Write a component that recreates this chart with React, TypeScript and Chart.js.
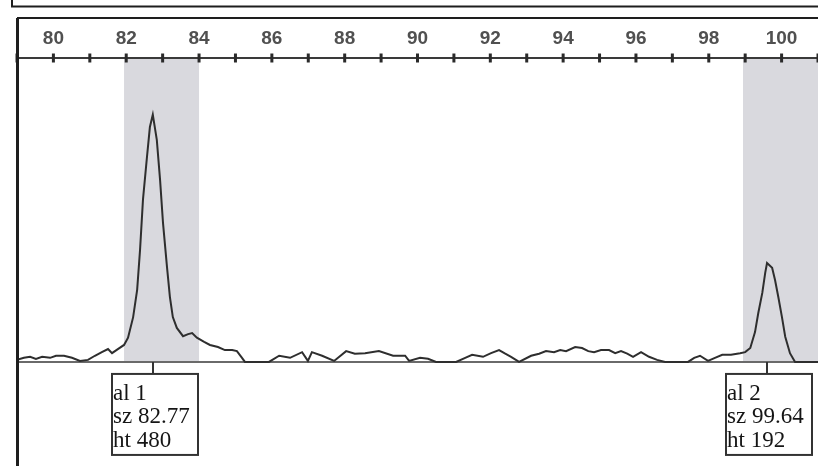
import React, { useEffect, useRef } from 'react';
import { Chart, registerables } from 'chart.js';

Chart.register(...registerables);

// Fragment size (bp) along the trace
const sizes = [
  79.04, 79.23, 79.40, 79.56, 79.73, 79.95, 80.11, 80.33, 80.55, 80.77, 80.99, 81.18, 81.37, 81.54, 81.65, 81.81,
  81.98, 82.09, 82.23, 82.34, 82.42, 82.50, 82.61, 82.69, 82.77, 82.88, 82.97, 83.05, 83.16, 83.24, 83.32, 83.43,
  83.60, 83.74, 83.85, 83.98, 84.18, 84.34, 84.56, 84.75, 84.95, 85.08, 85.22, 85.30, 85.96, 86.24, 86.54, 86.87,
  87.03, 87.14, 87.42, 87.75, 88.08, 88.32, 88.60, 88.98, 89.37, 89.70, 89.81, 90.11, 90.33, 90.55, 91.10, 91.35,
  91.54, 91.84, 92.06, 92.28, 92.45, 92.61, 92.83, 93.16, 93.38, 93.57, 93.79, 93.96, 94.12, 94.37, 94.56, 94.73,
  94.89, 95.08, 95.30, 95.47, 95.63, 95.80, 95.96, 96.18, 96.40, 96.62, 96.84, 97.47, 97.64, 97.80, 98.02, 98.21,
  98.41, 98.65, 98.90, 99.04, 99.18, 99.31, 99.40, 99.51, 99.59, 99.64, 99.78, 99.86, 99.95, 100.05, 100.14, 100.27,
  100.41, 101.04,
];
// Signal height (RFU) along the trace
const heights = [
  4, 8, 10, 6, 10, 8, 12, 12, 8, 2, 4, 12, 19, 25, 17, 25,
  33, 47, 87, 140, 218, 315, 398, 456, 480, 431, 353, 270, 184, 126, 87, 66,
  50, 54, 56, 47, 39, 33, 29, 23, 23, 21, 8, 0, 0, 12, 8, 19,
  2, 19, 12, 2, 21, 16, 17, 21, 12, 12, 2, 8, 6, 0, 0, 8,
  14, 10, 17, 23, 16, 10, 0, 12, 16, 21, 19, 23, 21, 29, 27, 21,
  19, 23, 23, 17, 21, 16, 10, 19, 10, 4, 0, 0, 8, 12, 2, 8,
  14, 14, 17, 19, 27, 58, 95, 134, 173, 192, 183, 159, 126, 87, 49, 17,
  0, 0,
];
// Allele bins (shaded)
const binStart = [81.98, 98.98];
const binEnd = [84.04, 101.04];
// Called peaks
const peakAllele = ['1', '2'];
const peakSize = [82.77, 99.64];
const peakHeight = [480, 192];

const X_MIN = 79.04;
const X_MAX = 101.04;
const Y_MIN = -202;
const Y_MAX = 590;

const rfuPlugin = {
  id: 'rfuDecor',
  beforeDatasetsDraw(chart: any) {
    const { ctx, chartArea: ca, scales } = chart;
    const x = scales.x;
    const y = scales.y;
    const y0 = y.getPixelForValue(0);
    ctx.save();
    ctx.fillStyle = '#d9d9de';
    for (let i = 0; i < binStart.length; i++) {
      const x0 = Math.max(x.getPixelForValue(binStart[i]), ca.left);
      const x1 = Math.min(x.getPixelForValue(binEnd[i]), ca.right);
      ctx.fillRect(x0, ca.top + 1, x1 - x0, y0 - ca.top - 1);
    }
    ctx.strokeStyle = '#6a6a6a';
    ctx.lineWidth = 2;
    ctx.beginPath();
    ctx.moveTo(ca.left, y0);
    ctx.lineTo(ca.right, y0);
    ctx.stroke();
    ctx.restore();
  },
  afterDraw(chart: any) {
    const { ctx, chartArea: ca, scales } = chart;
    const x = scales.x;
    const y = scales.y;
    const y0 = y.getPixelForValue(0);
    ctx.save();
    // axis line
    ctx.strokeStyle = '#3a3a3a';
    ctx.lineWidth = 2;
    ctx.beginPath();
    ctx.moveTo(ca.left, ca.top);
    ctx.lineTo(ca.right, ca.top);
    ctx.stroke();
    // tick marks
    ctx.lineWidth = 3;
    ctx.strokeStyle = '#2a2a2a';
    for (const t of x.ticks) {
      const px = x.getPixelForValue(t.value);
      ctx.beginPath();
      ctx.moveTo(px, ca.top - 4.5);
      ctx.lineTo(px, ca.top + 4.5);
      ctx.stroke();
    }
    // panel borders
    ctx.strokeStyle = '#1e1e1e';
    ctx.lineWidth = 3;
    ctx.beginPath();
    ctx.moveTo(ca.left + 0.5, 18);
    ctx.lineTo(ca.left + 0.5, chart.height);
    ctx.stroke();
    ctx.lineWidth = 2;
    ctx.beginPath();
    ctx.moveTo(ca.left, 18);
    ctx.lineTo(chart.width, 18);
    ctx.stroke();
    // top panel (cropped)
    ctx.beginPath();
    ctx.moveTo(12, 0);
    ctx.lineTo(12, 6.5);
    ctx.lineTo(chart.width, 6.5);
    ctx.stroke();
    // peak label boxes
    for (let i = 0; i < peakSize.length; i++) {
      const px = Math.round(x.getPixelForValue(peakSize[i]));
      const top = y0 + 12;
      const left = px - 41;
      ctx.strokeStyle = '#333';
      ctx.lineWidth = 2;
      ctx.beginPath();
      ctx.moveTo(px, y0);
      ctx.lineTo(px, top);
      ctx.stroke();
      ctx.strokeRect(left, top, 86, 81);
      ctx.fillStyle = '#151515';
      ctx.font = '23px "Liberation Serif"';
      ctx.textAlign = 'left';
      ctx.textBaseline = 'middle';
      const lines = ['al ' + peakAllele[i], 'sz ' + peakSize[i].toFixed(2), 'ht ' + peakHeight[i]];
      lines.forEach((s, k) => ctx.fillText(s, left + 1, top + 20 + k * 23.5));
    }
    ctx.restore();
  },
};

export default function App() {
  const ref = useRef<HTMLCanvasElement | null>(null);
  useEffect(() => {
    if (!ref.current) return;
    const chart = new Chart(ref.current, {
      type: 'line',
      data: {
        datasets: [
          {
            data: sizes.map((s, i) => ({ x: s, y: heights[i] })),
            borderColor: '#2e2e2e',
            borderWidth: 2,
            pointRadius: 0,
            tension: 0,
            fill: false,
          },
        ],
      },
      options: {
        animation: false,
        responsive: false,
        devicePixelRatio: 1,
        layout: { padding: { left: 17, right: 0, top: 18, bottom: 0 } },
        plugins: { legend: { display: false }, tooltip: { enabled: false } },
        scales: {
          x: {
            type: 'linear',
            position: 'top',
            min: X_MIN,
            max: X_MAX,
            afterFit: (scale: any) => {
              scale.height = 40;
              scale.paddingLeft = 0;
              scale.paddingRight = 0;
            },
            grid: { display: false, drawTicks: false },
            border: { display: false },
            ticks: {
              stepSize: 1,
              autoSkip: false,
              includeBounds: false,
              maxRotation: 0,
              padding: 8,
              color: '#505050',
              font: { family: '"Liberation Sans"', size: 19, weight: 'bold' },
              callback: (v: any) => (Math.round(v) % 2 === 0 ? String(Math.round(v)) : ''),
            },
          },
          y: {
            type: 'linear',
            display: false,
            min: Y_MIN,
            max: Y_MAX,
          },
        },
      },
      plugins: [rfuPlugin],
    });
    return () => chart.destroy();
  }, []);
  return (
    <div style={{ position: 'absolute', left: 0, top: 0, width: 818, height: 466, background: '#fff' }}>
      <canvas ref={ref} width={818} height={466} />
    </div>
  );
}
